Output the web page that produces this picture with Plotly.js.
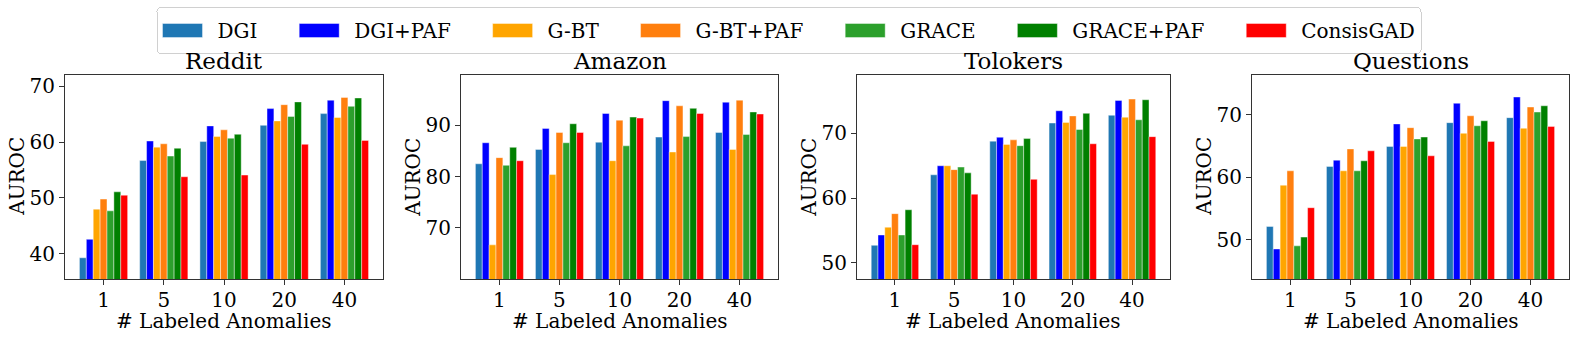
<!DOCTYPE html>
<html>
<head>
<meta charset="utf-8">
<script src="https://cdn.plot.ly/plotly-3.0.1.min.js"></script>
<style>
  html, body { margin: 0; padding: 0; background: #fff; }
  #chart { width: 1578px; height: 339px; }
</style>
</head>
<body>
<div id="chart"></div>
<script>
// AUROC vs number of labeled anomalies, 4 datasets x 7 methods

const labeledCounts = ['1', '5', '10', '20', '40'];
const methods = ['DGI', 'DGI+PAF', 'G-BT', 'G-BT+PAF', 'GRACE', 'GRACE+PAF', 'ConsisGAD'];
const datasets = ['Reddit', 'Amazon', 'Tolokers', 'Questions'];

// one row per method, in the order of `methods`
const reddit = [
    [39.3, 56.7, 60.1, 63.0, 65.1],
    [42.6, 60.2, 62.9, 66.0, 67.5],
    [48.0, 59.1, 61.0, 63.8, 64.4],
    [49.8, 59.7, 62.2, 66.7, 68.0],
    [47.7, 57.5, 60.7, 64.6, 66.4],
    [51.1, 58.9, 61.4, 67.2, 67.9],
    [50.5, 53.8, 54.1, 59.6, 60.3]
];
const amazon = [
    [82.5, 85.3, 86.7, 87.7, 88.6],
    [86.6, 89.4, 92.3, 94.8, 94.5],
    [66.7, 80.4, 83.1, 84.8, 85.3],
    [83.7, 88.6, 91.0, 93.8, 94.9],
    [82.2, 86.6, 86.0, 87.8, 88.2],
    [85.7, 90.3, 91.6, 93.3, 92.6],
    [83.1, 88.6, 91.4, 92.3, 92.2]
];
const tolokers = [
    [52.7, 63.6, 68.8, 71.6, 72.8],
    [54.3, 65.0, 69.4, 73.5, 75.1],
    [55.5, 65.0, 68.3, 71.7, 72.5],
    [57.6, 64.4, 69.0, 72.7, 75.3],
    [54.3, 64.8, 68.1, 70.6, 72.1],
    [58.2, 63.9, 69.2, 73.1, 75.2],
    [52.8, 60.6, 62.9, 68.4, 69.5]
];
const questions = [
    [52.1, 61.7, 64.9, 68.7, 69.5],
    [48.5, 62.7, 68.5, 71.8, 72.8],
    [58.7, 61.0, 64.9, 67.0, 67.8],
    [61.0, 64.5, 67.9, 69.8, 71.2],
    [49.0, 61.0, 66.1, 68.2, 70.4],
    [50.4, 62.6, 66.4, 69.0, 71.4],
    [55.1, 64.2, 63.4, 65.7, 68.1]
];

const yRanges = [[35.5, 72.1], [60.05, 99.9], [47.5, 79.1], [43.7, 76.4]];
const yTicks = [[40, 50, 60, 70], [70, 80, 90], [50, 60, 70], [50, 60, 70]];

const colors = ['#1f77b4', '#0000ff', '#ffa500', '#ff7f0e', '#2ca02c', '#008000', '#ff0000'];

// =========================================================================

const W = 1578, H = 339;
const FONT = 'DejaVu Serif';
// plot boxes in pixels [left, right], and the common top / bottom
const boxes = [[65, 383], [461, 778], [857, 1170], [1252, 1569]];
const boxTop = 74.5, boxBottom = 279;
// spacing after each legend entry (matplotlib's columnspacing)
const legendPad = '\u00a0'.repeat(5);

const allData = [reddit, amazon, tolokers, questions];
const xIdx = labeledCounts.map((c, i) => i);

let traces = [];
let layout = {
    width: W,
    height: H,
    // keep the subplot boxes where they are, whatever the legend needs
    margin: { t: 0, l: 0, r: 0, b: 0, autoexpand: false },
    paper_bgcolor: '#fff',
    plot_bgcolor: '#fff',
    barmode: 'group',
    bargap: 0.2,
    bargroupgap: 0,
    font: { family: FONT, size: 20, color: '#000' },
    showlegend: true,
    legend: {
        orientation: 'h',
        x: 0.5,
        xanchor: 'center',
        y: 1 - 10 / H,
        yanchor: 'top',
        bordercolor: '#d0d0d0',
        borderwidth: 1,
        itemwidth: 50,
        font: { family: FONT, size: 20, color: '#000' },
        traceorder: 'normal'
    },
    annotations: []
};

datasets.forEach((name, p) => {
    let n = p === 0 ? '' : String(p + 1);

    layout['xaxis' + n] = {
        domain: [boxes[p][0] / W, boxes[p][1] / W],
        anchor: 'y' + n,
        range: [-0.64, 4.64],
        tickmode: 'array',
        tickvals: xIdx,
        ticktext: labeledCounts,
        ticks: 'outside',
        ticklen: 5,
        tickcolor: '#333',
        ticklabelstandoff: -2,
        showline: true,
        mirror: true,
        linecolor: '#333',
        linewidth: 1,
        showgrid: false,
        zeroline: false,
        automargin: false,
        fixedrange: true
    };
    layout['yaxis' + n] = {
        domain: [(H - boxBottom) / H, (H - boxTop) / H],
        anchor: 'x' + n,
        range: yRanges[p],
        tickmode: 'array',
        tickvals: yTicks[p],
        ticks: 'outside',
        ticklen: 5,
        tickcolor: '#333',
        showline: true,
        mirror: true,
        linecolor: '#333',
        linewidth: 1,
        showgrid: false,
        zeroline: false,
        automargin: false,
        fixedrange: true
    };

    methods.forEach((m, k) => {
        traces.push({
            type: 'bar',
            name: k < methods.length - 1 ? m + legendPad : m,
            x: xIdx,
            y: allData[p][k],
            xaxis: 'x' + n,
            yaxis: 'y' + n,
            legendgroup: m,
            showlegend: p === 0,
            marker: {
                color: colors[k],
                line: { width: 0.6, color: 'rgba(255,255,255,0.7)' }
            },
            hoverinfo: 'name+y'
        });
    });

    // subplot title
    layout.annotations.push({
        text: name,
        xref: 'x' + n + ' domain', yref: 'y' + n + ' domain',
        x: 0.5, y: 1, xanchor: 'center', yanchor: 'middle',
        yshift: 14, showarrow: false,
        font: { family: FONT, size: 23, color: '#000' }
    });
    // x axis title
    layout.annotations.push({
        text: '# Labeled Anomalies',
        xref: 'x' + n + ' domain', yref: 'y' + n + ' domain',
        x: 0.5, y: 0, xanchor: 'center', yanchor: 'middle',
        yshift: -42, showarrow: false,
        font: { family: FONT, size: 20, color: '#000' }
    });
    // y axis title
    layout.annotations.push({
        text: 'AUROC',
        xref: 'x' + n + ' domain', yref: 'y' + n + ' domain',
        x: 0, y: 0.5, xanchor: 'center', yanchor: 'middle',
        xshift: -48, textangle: -90, showarrow: false,
        font: { family: FONT, size: 20, color: '#000' }
    });
});

Plotly.newPlot('chart', traces, layout, { displayModeBar: false, staticPlot: true }).then((gd) => {
    // wide, flat legend swatches ending 15px before the label, like the original
    gd.querySelectorAll('.legend .traces').forEach((tr) => {
        let path = tr.querySelector('.legendpoints path');
        let txt = tr.querySelector('.legendtext');
        if (!path || !txt) return;
        let pr = path.getBoundingClientRect();
        let cx = pr.left + pr.width / 2;
        let tl = txt.getBoundingClientRect().left;
        let x0 = tl - 55 - cx, x1 = tl - 15 - cx;
        path.setAttribute('d', 'M' + x1 + ',7H' + x0 + 'V-7H' + x1 + 'Z');
    });
    // taller frame with rounded corners
    let bg = gd.querySelector('.legend .bg');
    if (bg) {
        let y = parseFloat(bg.getAttribute('y') || 0);
        let h = parseFloat(bg.getAttribute('height'));
        bg.setAttribute('y', y - 3);
        bg.setAttribute('height', h + 6);
        bg.setAttribute('rx', 4);
        bg.setAttribute('ry', 4);
    }
});
</script>
</body>
</html>
